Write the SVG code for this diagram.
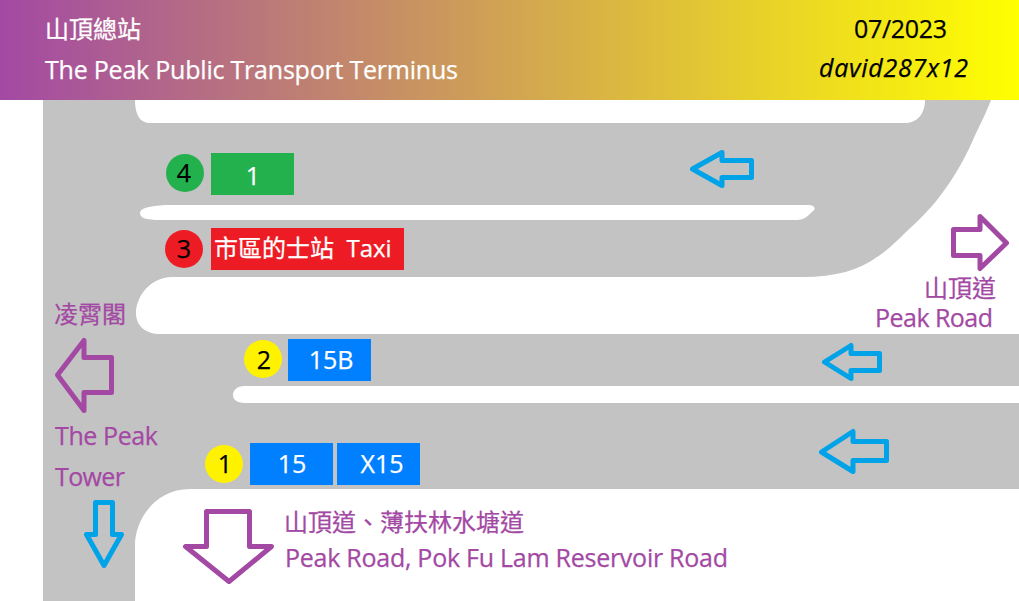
<svg xmlns="http://www.w3.org/2000/svg" width="1019" height="601" viewBox="0 0 1019 601">
<style>
text{font-family:"Open Sans","Noto Sans CJK TC","Noto Sans",sans-serif;font-size:25px;stroke-width:.25}
.c{font-size:24px}
.w{fill:#fff;stroke:#fff}.k{fill:#000;stroke:#000}.p{fill:#a349a4;stroke:#a349a4}.m{text-anchor:middle}
.a{fill:none;stroke-linejoin:round;stroke-width:5}
.b{stroke:#00a2e8}.v{stroke:#a349a4}
</style>
<defs><linearGradient id="g" x1="0" x2="1" y1="0" y2="0"><stop offset="0" stop-color="#a349a4"/><stop offset="1" stop-color="#ffff00"/></linearGradient></defs>
<rect width="1019" height="601" fill="#fff"/>
<g id="roads">
<path fill="#c3c3c3" d="M43,100H135C135,115 140,123 150,123H905C918,123 925,113 925,100H991C984,118 978,128 973,140C962,165 950,183 937,200C925,215 912,226 900,238C890,247 885,252 877,257C860,270 835,277 803,277H172C150,277 136,297 136,313C136,326 146,334 160,334H1019V386H245C236,386 233,391 233,395C233,399 236,403 245,403H1019V489H190C155,489 135,520 135,545V601H43Z"/>
<path fill="#fff" d="M165,205H808C815,205 816,209 813,211C808,216 804,220 797,220H160C146,220 140,218 140,213C140,208 150,206 165,205Z"/>
</g>
<g id="header">
<rect width="1019" height="100" fill="url(#g)"/>
<text class="w c" x="45" y="38">山頂總站</text>
<text class="w" x="45" y="79" textLength="413">The Peak Public Transport Terminus</text>
<text class="k" x="854" y="38" textLength="93">07/2023</text>
<text class="k" x="819" y="77" font-style="italic" textLength="149">david287x12</text>
</g>
<g id="connectors">
<polygon class="a b" points="692.500,169 722,152.500 722,160.500 751.500,160.500 751.500,177.500 722,177.500 722,185.500"/>
<polygon class="a b" points="824.500,362 851,345.500 851,353.500 879.500,353.500 879.500,370.500 851,370.500 851,378.500"/>
<polygon class="a b" points="821.500,452 853,431.500 853,441.500 886.500,441.500 886.500,460.500 853,460.500 853,471.500"/>
<polygon class="a b" points="95.500,502.500 112.500,502.500 112.500,534.500 121.500,534.500 104,565.500 86.500,534.500 95.500,534.500"/>
<polygon class="a v" points="953.500,229.500 980,229.500 980,216.500 1006.500,243 980,268.500 980,255.500 953.500,255.500"/>
<polygon class="a v" points="57.500,375 84,340.500 84,357.500 111.500,357.500 111.500,392.500 84,392.500 84,410.500"/>
<polygon class="a v" points="206.500,511.500 249.500,511.500 249.500,546.500 271.500,546.500 229,581.500 185.500,546.500 206.500,546.500"/>
</g>
<g id="stop4"><circle cx="185" cy="173" r="19" fill="#22b14c"/><text class="k m" x="184" y="182">4</text><rect x="211" y="153" width="83" height="42" fill="#22b14c"/><text class="w m" x="253" y="185">1</text></g>
<g id="stop3"><circle cx="184" cy="249" r="19" fill="#ed1c24"/><text class="k m" x="184" y="258">3</text><rect x="211" y="228" width="193" height="42" fill="#ed1c24"/><text class="w c" x="214" y="257" xml:space="preserve">市區的士站  Taxi</text></g>
<g id="stop2"><circle cx="263" cy="359" r="19" fill="#fff200"/><text class="k m" x="264" y="369">2</text><rect x="288" y="339" width="83" height="42" fill="#0080ff"/><text class="w m" x="331" y="369">15B</text></g>
<g id="stop1"><circle cx="224" cy="464" r="19" fill="#fff200"/><text class="k m" x="225" y="473">1</text><rect x="250" y="443" width="83" height="42" fill="#0080ff"/><text class="w m" x="292" y="473">15</text><rect x="337" y="443" width="83" height="42" fill="#0080ff"/><text class="w m" x="382" y="473">X15</text></g>
<g id="labels">
<text class="p c" x="924" y="297">山頂道</text>
<text class="p" x="875" y="327" textLength="118">Peak Road</text>
<text class="p c" x="54" y="323">凌霄閣</text>
<text class="p" x="55" y="445" textLength="103">The Peak</text>
<text class="p" x="55" y="486" textLength="70">Tower</text>
<text class="p c" x="284" y="531">山頂道、薄扶林水塘道</text>
<text class="p" x="285" y="567" textLength="443">Peak Road, Pok Fu Lam Reservoir Road</text>
</g>
</svg>
